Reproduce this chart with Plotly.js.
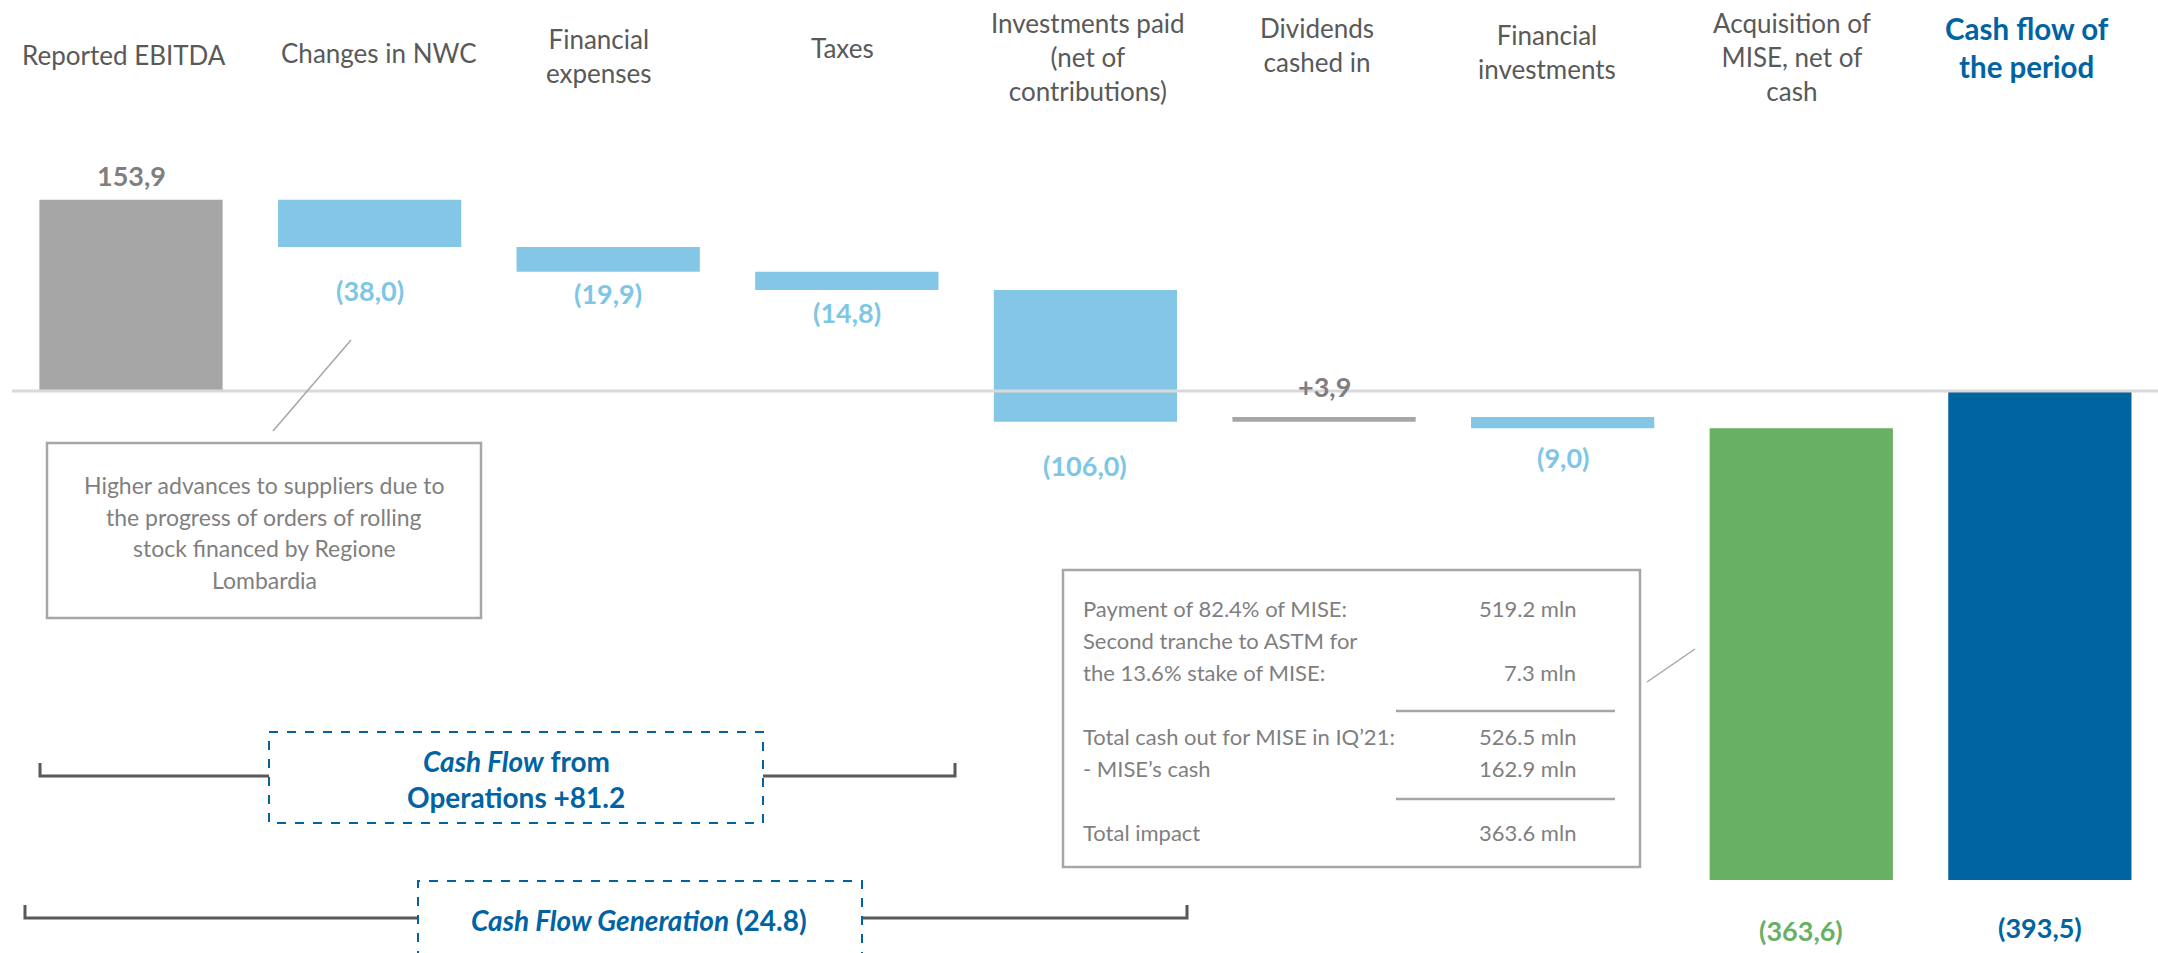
<!DOCTYPE html>
<html><head><meta charset="utf-8">
<script src="https://cdn.plot.ly/plotly-3.0.1.min.js"></script>
<style>html,body{margin:0;padding:0;background:#fff;overflow:hidden}</style>
</head><body><div id="chart" style="width:2158px;height:953px"></div>
<script>
// ---------- data ----------
const categories = ["Reported EBITDA","Changes in NWC","Financial<br>expenses","Taxes","Investments paid<br>(net of<br>contributions)","Dividends<br>cashed in","Financial<br>investments","Acquisition of<br>MISE, net of<br>cash","Cash flow of<br>the period"];
const values = [153.9, -38.0, -19.9, -14.8, -106.0, 3.9, -9.0, -363.6, -393.5];
const measures = ["absolute","relative","relative","relative","relative","relative","relative","relative","total"];
const valueLabels = ["153,9","(38,0)","(19,9)","(14,8)","(106,0)","+3,9","(9,0)","(363,6)","(393,5)"];
const noteLines = ["Higher advances to suppliers due to","the progress of orders of rolling","stock financed by Regione","Lombardia"];
const miseItems = ["Payment of 82.4% of MISE:","Second tranche to ASTM for","the 13.6% stake of MISE:","Total cash out for MISE in IQ\u201921:","- MISE\u2019s cash","Total impact"];
const miseAmounts = ["519.2 mln","","7.3 mln","526.5 mln","162.9 mln","363.6 mln"];
const cfoText = ["<i>Cash Flow</i> from","Operations +81.2"];
const cfgText = "<i>Cash Flow Generation</i> (24.8)";

// ---------- styles ----------
const barColors = ["#a6a6a6","#84c6e5","#84c6e5","#84c6e5","#84c6e5","#a6a6a6","#84c6e5","#68b063","#0064a0"];
const labelColors = ["#7f7f7f","#7ec6e6","#7ec6e6","#7ec6e6","#7ec6e6","#7f7f7f","#7ec6e6","#68b063","#0064a0"];
const catColors = ["#595959","#595959","#595959","#595959","#595959","#595959","#595959","#595959","#0063a3"];
const FONT = "Lato, 'Open Sans', sans-serif";
const W = 2158, H = 953;

// ---------- layout positions ----------
const labelShift = [24, -44, -22, -22, -44, 30, -29, -50, -47];
const catCenterY = [55, 53, 56, 48, 56.5, 44.5, 51.5, 57, 48];
const catShiftX = [-7, 9, -9, -4, 3, -7, -16, -9, -13];
const px = x => x / W;
const py = y => 1 - y / H;

// ---------- waterfall bases ----------
const bases = [], heights = [], ends = [];
let running = 0;
values.forEach((v, i) => {
  if (measures[i] === "absolute") { bases.push(0); heights.push(v); running = v; }
  else if (measures[i] === "total") { bases.push(0); heights.push(running); }
  else { bases.push(running); heights.push(v); running += v; }
  ends.push(bases[i] + heights[i]);
});

const trace = {
  type: "bar", x: categories, y: heights, base: bases, width: 0.768,
  marker: {color: barColors, line: {width: 0}},
  hoverinfo: "skip", showlegend: false
};

const annotations = [];
categories.forEach((c, i) => {
  annotations.push({
    x: c, xref: "x", y: py(catCenterY[i]), yref: "paper", xshift: catShiftX[i],
    text: i === 8 ? "<b>" + c + "</b>" : c, showarrow: false,
    xanchor: "center", yanchor: "middle", align: "center",
    font: {family: FONT, size: i === 8 ? 29.5 : 26, color: catColors[i]}
  });
  annotations.push({
    x: c, xref: "x", y: ends[i], yref: "y", yshift: labelShift[i],
    text: "<b>" + valueLabels[i] + "</b>", showarrow: false,
    xanchor: "center", yanchor: "middle",
    font: {family: FONT, size: 27, color: labelColors[i]}
  });
});
const noteY = [485, 517, 548, 580];
noteLines.forEach((t, i) => annotations.push({
  x: px(264), xref: "paper", y: py(noteY[i]), yref: "paper", text: t, showarrow: false,
  xanchor: "center", yanchor: "middle", font: {family: FONT, size: 23, color: "#7f7f7f"}
}));
const miseY = [608, 640, 672, 736, 768, 832];
miseItems.forEach((t, i) => {
  annotations.push({
    x: px(1081), xref: "paper", y: py(miseY[i]), yref: "paper", text: t, showarrow: false,
    xanchor: "left", yanchor: "middle", font: {family: FONT, size: 22, color: "#7f7f7f"}
  });
  if (miseAmounts[i]) annotations.push({
    x: px(1578), xref: "paper", y: py(miseY[i]), yref: "paper", text: miseAmounts[i], showarrow: false,
    xanchor: "right", yanchor: "middle", font: {family: FONT, size: 22, color: "#7f7f7f"}
  });
});
const cfoY = [761, 797];
cfoText.forEach((t, i) => annotations.push({
  x: px(516), xref: "paper", y: py(cfoY[i]), yref: "paper", text: "<b>" + t + "</b>", showarrow: false,
  xanchor: "center", yanchor: "middle", font: {family: FONT, size: 28, color: "#0063a3"}
}));
annotations.push({
  x: px(639), xref: "paper", y: py(920), yref: "paper", text: "<b>" + cfgText + "</b>", showarrow: false,
  xanchor: "center", yanchor: "middle", font: {family: FONT, size: 28, color: "#0063a3"}
});

const P = (pts) => pts.map((p, i) => (i ? "L" : "M") + px(p[0]).toFixed(5) + "," + py(p[1]).toFixed(5)).join(" ");
const gray = "#a6a6a6", dark = "#595959", blue = "#0063a3";
const shapes = [
  // zero line
  {type: "line", xref: "paper", yref: "y", x0: px(12), x1: 1, y0: 0, y1: 0, layer: "above", line: {color: "#d9d9d9", width: 3}},
  // left note box + connector
  {type: "rect", xref: "paper", yref: "paper", x0: px(47), x1: px(481), y0: py(443), y1: py(618), line: {color: gray, width: 2.5}},
  {type: "line", xref: "paper", yref: "paper", x0: px(351), y0: py(340), x1: px(273), y1: py(431), line: {color: gray, width: 1.5}},
  // MISE box + separators + connector
  {type: "rect", xref: "paper", yref: "paper", x0: px(1063), x1: px(1640), y0: py(570), y1: py(867), line: {color: gray, width: 2.5}},
  {type: "line", xref: "paper", yref: "paper", x0: px(1396), x1: px(1615), y0: py(711), y1: py(711), line: {color: gray, width: 2.5}},
  {type: "line", xref: "paper", yref: "paper", x0: px(1396), x1: px(1615), y0: py(799), y1: py(799), line: {color: gray, width: 2.5}},
  {type: "line", xref: "paper", yref: "paper", x0: px(1647), y0: py(682), x1: px(1695), y1: py(649), line: {color: gray, width: 1.5}},
  // CFO bracket
  {type: "path", xref: "paper", yref: "paper", path: P([[40,763],[40,776],[269,776]]), line: {color: dark, width: 3}},
  {type: "path", xref: "paper", yref: "paper", path: P([[763,776],[955,776],[955,763]]), line: {color: dark, width: 3}},
  {type: "rect", xref: "paper", yref: "paper", x0: px(269), x1: px(763), y0: py(732), y1: py(823), line: {color: blue, width: 2, dash: "dash"}},
  // CFG bracket
  {type: "path", xref: "paper", yref: "paper", path: P([[25,905],[25,918],[418,918]]), line: {color: dark, width: 3}},
  {type: "path", xref: "paper", yref: "paper", path: P([[862,918],[1187,918],[1187,905]]), line: {color: dark, width: 3}},
  {type: "path", xref: "paper", yref: "paper", path: P([[418,960],[418,881],[862,881],[862,960]]), line: {color: blue, width: 2, dash: "dash"}}
];

const y0px = 391, k = 1.243;
const layout = {
  width: W, height: H, margin: {l: 0, r: 0, t: 0, b: 0, pad: 0},
  paper_bgcolor: "#fff", plot_bgcolor: "#fff", showlegend: false,
  xaxis: {type: "category", range: [-0.549, 8.495], visible: false, fixedrange: true},
  yaxis: {range: [-(H - y0px) / k, y0px / k], visible: false, showgrid: false, zeroline: false, fixedrange: true},
  annotations: annotations, shapes: shapes,
  font: {family: FONT}
};
Plotly.newPlot("chart", [trace], layout, {displayModeBar: false, staticPlot: true});
</script></body></html>
